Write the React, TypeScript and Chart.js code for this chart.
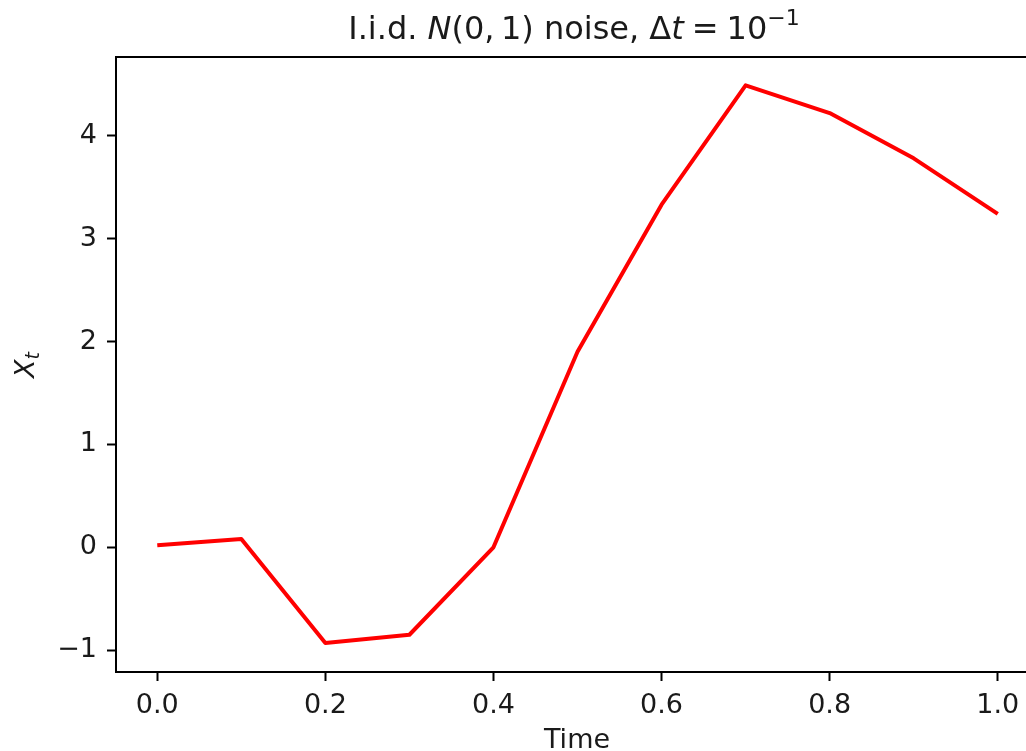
import React, { useEffect, useRef } from "react";
import { Chart, registerables } from "chart.js";

Chart.register(...registerables);

const timePoints = [0, 0.1, 0.2, 0.3, 0.4, 0.5, 0.6, 0.7, 0.8, 0.9, 1.0];
const xtValues = [0.02, 0.08, -0.93, -0.85, 0.0, 1.9, 3.33, 4.49, 4.22, 3.78, 3.24];
const xTickValues = [0, 0.2, 0.4, 0.6, 0.8, 1.0];
const yTickValues = [-1, 0, 1, 2, 3, 4];

const FONT = '"DejaVu Sans"';
const TEXT = "#1a1a1a";

type Seg = { t: string; size: number; italic?: boolean; dy?: number };

function drawRich(ctx: CanvasRenderingContext2D, segs: Seg[], cx: number, baseline: number) {
  const fontOf = (s: Seg) => `${s.italic ? "italic " : ""}${s.size}px ${FONT}`;
  let total = 0;
  const widths = segs.map((s) => {
    ctx.font = fontOf(s);
    const w = ctx.measureText(s.t).width;
    total += w;
    return w;
  });
  let x = cx - total / 2;
  ctx.textAlign = "left";
  ctx.textBaseline = "alphabetic";
  segs.forEach((s, i) => {
    ctx.font = fontOf(s);
    ctx.fillText(s.t, x, baseline + (s.dy || 0));
    x += widths[i];
  });
}

const decorPlugin = {
  id: "decor",
  afterDraw(chart: any) {
    const ctx: CanvasRenderingContext2D = chart.ctx;
    const area = chart.chartArea;
    ctx.save();
    // top spine
    ctx.strokeStyle = "#000";
    ctx.lineWidth = 2;
    ctx.beginPath();
    ctx.moveTo(area.left - 1, area.top);
    ctx.lineTo(area.right, area.top);
    ctx.stroke();

    ctx.fillStyle = TEXT;
    // title
    drawRich(
      ctx,
      [
        { t: "I.i.d. ", size: 32 },
        { t: "N", size: 32, italic: true },
        { t: "(0,\u20091)", size: 32 },
        { t: " noise, ", size: 32 },
        { t: "Δ", size: 32 },
        { t: "t", size: 32, italic: true },
        { t: "\u2005=\u2005", size: 32 },
        { t: "10", size: 32 },
        { t: "−1", size: 22, dy: -14.5 },
      ],
      574,
      39
    );
    // x label
    drawRich(ctx, [{ t: "Time", size: 27 }], 577, 748);
    // y label (rotated)
    ctx.save();
    ctx.translate(34, 365);
    ctx.rotate(-Math.PI / 2);
    drawRich(
      ctx,
      [
        { t: "X", size: 27, italic: true },
        { t: "t", size: 19, italic: true, dy: 5 },
      ],
      0,
      0
    );
    ctx.restore();
    ctx.restore();
  },
};

export default function App() {
  const ref = useRef<HTMLCanvasElement | null>(null);
  useEffect(() => {
    if (!ref.current) return;
    const chart = new Chart(ref.current, {
      type: "line",
      data: {
        datasets: [
          {
            data: timePoints.map((t, i) => ({ x: t, y: xtValues[i] })),
            borderColor: "#ff0000",
            borderWidth: 4,
            pointRadius: 0,
            tension: 0,
            fill: false,
            borderJoinStyle: "round",
            borderCapStyle: "butt",
          },
        ],
      },
      options: {
        animation: false,
        responsive: false,
        events: [],
        layout: { padding: { top: 57, left: 0, right: 0, bottom: 0 } },
        plugins: {
          legend: { display: false },
          title: { display: false },
          tooltip: { enabled: false },
        },
        scales: {
          x: {
            type: "linear",
            min: -0.0491,
            max: 1.0336,
            afterBuildTicks: (s: any) => {
              s.ticks = xTickValues.map((v) => ({ value: v }));
            },
            afterFit: (s: any) => {
              s.height = 79;
              s.paddingLeft = 0;
              s.paddingRight = 0;
            },
            grid: {
              drawOnChartArea: false,
              drawTicks: true,
              tickLength: 9,
              tickWidth: 2,
              tickColor: "#000",
            },
            border: { display: true, color: "#000", width: 2 },
            ticks: {
              color: TEXT,
              font: { family: "DejaVu Sans", size: 27 },
              padding: 9,
              maxRotation: 0,
              autoSkip: false,
              callback: (v: any) => Number(v).toFixed(1),
            },
          },
          y: {
            type: "linear",
            min: -1.212,
            max: 4.765,
            afterBuildTicks: (s: any) => {
              s.ticks = yTickValues.map((v) => ({ value: v }));
            },
            afterFit: (s: any) => {
              s.width = 116;
              s.paddingTop = 0;
              s.paddingBottom = 0;
            },
            grid: {
              drawOnChartArea: false,
              drawTicks: true,
              tickLength: 9,
              tickWidth: 2,
              tickColor: "#000",
            },
            border: { display: true, color: "#000", width: 2 },
            ticks: {
              color: TEXT,
              font: { family: "DejaVu Sans", size: 27 },
              padding: 10,
              autoSkip: false,
              callback: (v: any) => (Number(v) < 0 ? "−" + Math.abs(Number(v)) : String(v)),
            },
          },
        },
      },
      plugins: [decorPlugin],
    } as any);
    return () => chart.destroy();
  }, []);
  return (
    <div style={{ position: "fixed", left: 0, top: 0, width: 1026, height: 751, background: "#fff", overflow: "hidden" }}>
      <canvas ref={ref} width={1026} height={751} style={{ display: "block", width: 1026, height: 751 }} />
    </div>
  );
}
